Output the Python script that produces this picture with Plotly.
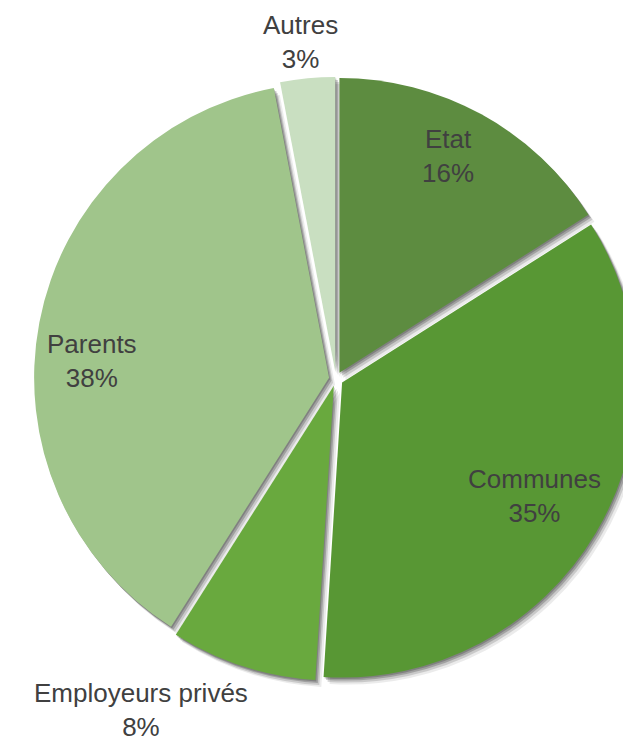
import plotly.graph_objects as go

# Financing shares by contributor
labels = ["Etat", "Communes", "Employeurs privés", "Parents", "Autres"]
shares = [16, 35, 8, 38, 3]
colors = ["#5d8c40", "#589734", "#69a93e", "#a0c58b", "#c9dfc1"]

# Label anchor points (pixels from top-left of the figure) and vertical anchors
label_px = [(448, 156), (534, 496), (141, 744), (92, 361), (300, 42)]
label_anchor = ["middle", "middle", "bottom", "middle", "middle"]

W, H = 650, 744
pull = 0.024
cx, cy, rmax = 336, 379, 302
dom_x = [(cx - rmax) / W, (cx + rmax) / W]
dom_y = [1 - (cy + rmax) / H, 1 - (cy - rmax) / H]

fig = go.Figure()

# soft drop shadow under the slices
for dx, dy, alpha in [(6, 7, 0.08), (4, 5, 0.14), (2.5, 3, 0.20), (1, 1.5, 0.20)]:
    fig.add_trace(go.Pie(
        labels=labels, values=shares, sort=False, direction="clockwise",
        rotation=0, pull=[pull] * len(shares),
        marker=dict(colors=[f"rgba(0,0,0,{alpha})"] * len(shares),
                    line=dict(width=0)),
        textinfo="none", hoverinfo="skip", showlegend=False,
        domain=dict(x=[dom_x[0] + dx / W, dom_x[1] + dx / W],
                    y=[dom_y[0] - dy / H, dom_y[1] - dy / H]),
    ))

fig.add_trace(go.Pie(
    labels=labels, values=shares, sort=False, direction="clockwise",
    rotation=0, pull=[pull] * len(shares),
    marker=dict(colors=colors, line=dict(width=0)),
    textinfo="none", hoverinfo="label+percent", showlegend=False,
    domain=dict(x=dom_x, y=dom_y),
))

for lab, val, (px, py), anc in zip(labels, shares, label_px, label_anchor):
    fig.add_annotation(
        x=px / W, y=1 - py / H, xref="paper", yref="paper",
        text=f"{lab}<br>{val}%", showarrow=False,
        xanchor="center", yanchor=anc, align="center",
        font=dict(family="Liberation Sans Narrow, Arial Narrow, Liberation Sans, Arial",
                  size=26, color="#404040"),
    )

fig.update_layout(
    width=W, height=H, autosize=False,
    margin=dict(l=0, r=0, t=0, b=0),
    paper_bgcolor="white", plot_bgcolor="white",
    showlegend=False,
)

fig.write_html("out.html")
